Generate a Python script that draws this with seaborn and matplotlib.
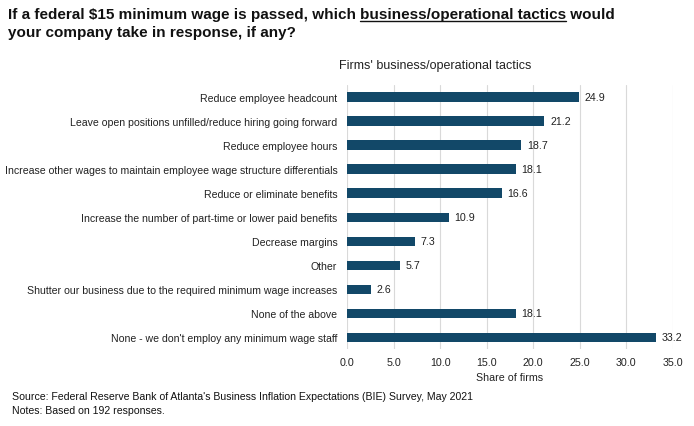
import matplotlib

matplotlib.use("Agg")
import matplotlib.pyplot as plt
import pandas as pd
import seaborn as sns

tactics = [
    "Reduce employee headcount",
    "Leave open positions unfilled/reduce hiring going forward",
    "Reduce employee hours",
    "Increase other wages to maintain employee wage structure differentials",
    "Reduce or eliminate benefits",
    "Increase the number of part-time or lower paid benefits",
    "Decrease margins",
    "Other",
    "Shutter our business due to the required minimum wage increases",
    "None of the above",
    "None - we don't employ any minimum wage staff",
]
share = [24.9, 21.2, 18.7, 18.1, 16.6, 10.9, 7.3, 5.7, 2.6, 18.1, 33.2]
x_ticks = [0, 5, 10, 15, 20, 25, 30, 35]

df = pd.DataFrame({"tactic": tactics, "share": share})

sns.set_theme(style="white")
plt.rcParams["font.family"] = ["Liberation Sans", "DejaVu Sans"]

fig = plt.figure(figsize=(6.94, 4.27), dpi=100)
ax = fig.add_axes([347 / 694, 0.180, 326 / 694, 0.6186])

sns.barplot(data=df, x="share", y="tactic", color="#124868", width=0.38,
            saturation=1, linewidth=0, ax=ax, zorder=3)

for i, v in enumerate(share):
    ax.text(v + 0.6, i, f"{v:.1f}", va="center", ha="left", fontsize=7.7, color="#222222")

ax.set_xlim(0, 35)
ax.set_ylim(10.5, -0.5)
ax.set_xticks(x_ticks)
ax.set_xticklabels([f"{t:.1f}" for t in x_ticks], fontsize=7.7, color="#222222")
ax.tick_params(axis="y", labelsize=7.6, labelcolor="#222222", length=0, pad=7)
ax.tick_params(axis="x", length=0, pad=6)
ax.xaxis.grid(True, color="#d9d9d9", lw=0.8, zorder=0)
ax.set_axisbelow(True)
for s in ax.spines.values():
    s.set_visible(False)
ax.set_ylabel("")
ax.set_xlabel("Share of firms", fontsize=7.7, color="#222222", labelpad=3)

# title with underlined phrase
renderer = fig.canvas.get_renderer()
tx, ty = 8 / 694, 1 - 19 / 427
parts = ["If a federal $15 minimum wage is passed, which ", "business/operational tactics", " would"]
x = tx
for k, p in enumerate(parts):
    t = fig.text(x, ty, p, fontsize=11, fontweight="bold", color="#111111", va="baseline")
    bb = t.get_window_extent(renderer).transformed(fig.transFigure.inverted())
    if k == 1:
        fig.add_artist(plt.Line2D([x, bb.x1], [ty - 2.5 / 427, ty - 2.5 / 427],
                                  transform=fig.transFigure, color="#111111", lw=1))
    x = bb.x1
fig.text(tx, 1 - 37 / 427, "your company take in response, if any?", fontsize=11,
         fontweight="bold", color="#111111", va="baseline")

fig.text(435 / 694, 1 - 66 / 427, "Firms' business/operational tactics", fontsize=9,
         ha="center", va="center", color="#222222")

fig.text(12 / 694, 1 - 397 / 427,
         "Source: Federal Reserve Bank of Atlanta's Business Inflation Expectations (BIE) Survey, May 2021",
         fontsize=7.6, va="center", color="#111111")
fig.text(12 / 694, 1 - 411 / 427, "Notes: Based on 192 responses.", fontsize=7.6,
         va="center", color="#111111")

fig.savefig("out.png", dpi=100)
